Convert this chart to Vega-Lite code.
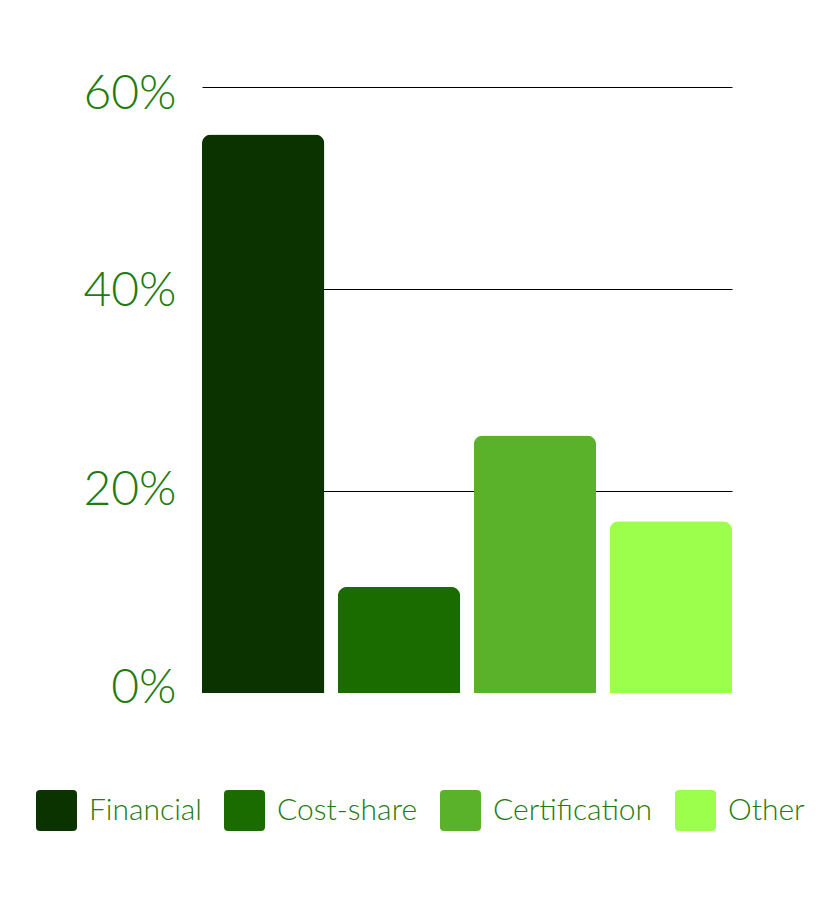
{
  "$schema": "https://vega.github.io/schema/vega-lite/v6.json",
  "width": 530,
  "height": 606,
  "autosize": {"type": "none"},
  "padding": {"left": 202, "top": 87, "right": 88, "bottom": 207},
  "background": "white",
  "data": {
    "values": [
      {"type": "Financial", "share": 0.553},
      {"type": "Cost-share", "share": 0.105},
      {"type": "Certification", "share": 0.255},
      {"type": "Other", "share": 0.17}
    ]
  },
  "mark": {"type": "bar", "cornerRadiusTopLeft": 9, "cornerRadiusTopRight": 9},
  "encoding": {
    "x": {
      "field": "type",
      "type": "nominal",
      "sort": null,
      "axis": null,
      "scale": {"paddingInner": 0.1, "paddingOuter": 0}
    },
    "y": {
      "field": "share",
      "type": "quantitative",
      "scale": {"domain": [0, 0.6], "nice": false},
      "axis": {
        "title": null,
        "values": [0, 0.2, 0.4, 0.6],
        "format": ".0%",
        "domain": false,
        "ticks": false,
        "labelFont": "Lato",
        "labelFontWeight": 300,
        "labelFontSize": 48,
        "labelColor": "#237b0f",
        "labelPadding": 26,
        "labelBaseline": "middle",
        "labelOffset": {
          "condition": [
            {"test": "datum.value > 0.5", "value": 7},
            {"test": "datum.value > 0.3", "value": 2},
            {"test": "datum.value > 0.1", "value": -1}
          ],
          "value": -5
        },
        "grid": true,
        "gridColor": "#000000",
        "gridWidth": 1,
        "gridOpacity": {"condition": {"test": "datum.value === 0", "value": 0}, "value": 1}
      }
    },
    "color": {
      "field": "type",
      "type": "nominal",
      "sort": null,
      "scale": {
        "domain": ["Financial", "Cost-share", "Certification", "Other"],
        "range": ["#0b3300", "#1a6b00", "#5ab22b", "#9bff4b"]
      },
      "legend": {
        "title": null,
        "orient": "none",
        "legendX": -166,
        "legendY": 703,
        "direction": "horizontal",
        "columns": 4,
        "symbolType": "M-1,-0.8Q-1,-1,-0.8,-1L0.8,-1Q1,-1,1,-0.8L1,0.8Q1,1,0.8,1L-0.8,1Q-1,1,-1,0.8Z",
        "symbolSize": 1681,
        "symbolStrokeWidth": 0,
        "symbolOpacity": 1,
        "labelFont": "Lato",
        "labelFontWeight": 300,
        "labelFontSize": 30,
        "labelColor": "#237b0f",
        "labelOffset": 12,
        "labelLimit": 300,
        "columnPadding": 22
      }
    }
  },
  "config": {"view": {"stroke": null}}
}
